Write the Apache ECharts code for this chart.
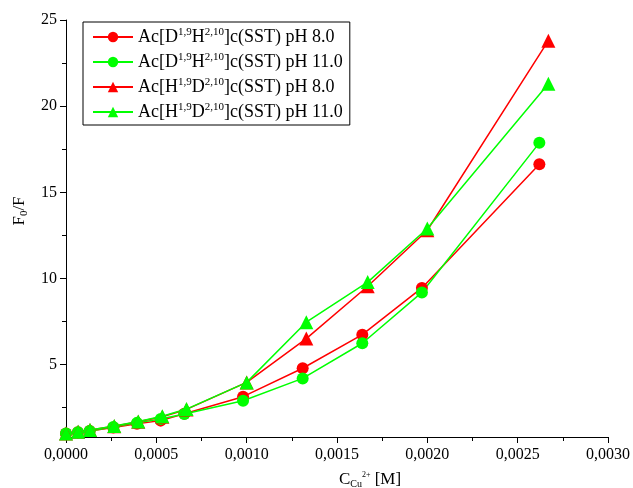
<!DOCTYPE html>
<html><head><meta charset="utf-8">
<script src="https://cdn.jsdelivr.net/npm/echarts@6/dist/echarts.min.js"></script>
<style>html,body{margin:0;padding:0;background:#fff}#c{width:633px;height:488px}</style>
</head><body><div id="c"></div>
<script>
// Data
const xCircle = [0, 0.000066, 0.000131, 0.000262, 0.000393, 0.000524, 0.000655, 0.00098, 0.00131, 0.00164, 0.00197, 0.00262];
const xTri    = [0, 0.000067, 0.000133, 0.000267, 0.0004, 0.000533, 0.000667, 0.001, 0.00133, 0.00167, 0.002, 0.00267];
const dh8  = [1.0, 1.08, 1.15, 1.35, 1.57, 1.75, 2.15, 3.14, 4.79, 6.74, 9.45, 16.63];
const dh11 = [1.0, 1.08, 1.15, 1.38, 1.62, 1.85, 2.13, 2.9, 4.2, 6.24, 9.19, 17.87];
const hd8  = [1.0, 1.1, 1.2, 1.42, 1.68, 1.98, 2.4, 3.97, 6.51, 9.55, 12.8, 23.8];
const hd11 = [1.0, 1.1, 1.2, 1.44, 1.7, 2.0, 2.42, 3.97, 7.46, 9.79, 12.9, 21.3];
const yTicks = [5, 10, 15, 20, 25];
const yMinorTicks = [2.5, 7.5, 12.5, 17.5, 22.5];
const names = ['DH8', 'DH11', 'HD8', 'HD11'];
const legendText = {
  DH8:  '{n|Ac[D}{s|1,9}{n|H}{s|2,10}{n|]c(SST) pH 8.0}',
  DH11: '{n|Ac[D}{s|1,9}{n|H}{s|2,10}{n|]c(SST) pH 11.0}',
  HD8:  '{n|Ac[H}{s|1,9}{n|D}{s|2,10}{n|]c(SST) pH 8.0}',
  HD11: '{n|Ac[H}{s|1,9}{n|D}{s|2,10}{n|]c(SST) pH 11.0}'
};

const FF = '"Liberation Serif", "Times New Roman", serif';
const pairs = (xs, ys) => xs.map((x, i) => [x, ys[i]]);
const RED = '#ff0000', GREEN = '#00ff00';
function mk(name, xs, ys, color, symbol, size) {
  return {
    name, type: 'line', data: pairs(xs, ys), symbol, symbolSize: size,
    itemStyle: { color }, lineStyle: { color, width: 1.5 }, animation: false
  };
}
const chart = echarts.init(document.getElementById('c'));
chart.setOption({
  animation: false,
  grid: { left: 66, right: 21, top: 20, bottom: 51, containLabel: false },
  legend: {
    left: 83, top: 22, orient: 'vertical',
    data: names,
    formatter: n => legendText[n],
    itemWidth: 40, itemHeight: 13, itemGap: 6,
    borderColor: '#000', borderWidth: 1, borderRadius: 0,
    padding: [5, 7, 4, 9],
    textStyle: {
      fontFamily: FF, color: '#000',
      rich: {
        n: { fontFamily: FF, fontSize: 18, color: '#000', lineHeight: 20 },
        s: { fontFamily: FF, fontSize: 11, color: '#000', verticalAlign: 'top', lineHeight: 11 }
      }
    }
  },
  xAxis: {
    type: 'value', min: 0, max: 0.003, interval: 0.0005,
    axisLine: { lineStyle: { color: '#000', width: 1 } },
    axisTick: { show: true, length: 6, lineStyle: { color: '#000' } },
    minorTick: { show: true, splitNumber: 2, length: 4, lineStyle: { color: '#000' } },
    splitLine: { show: false },
    axisLabel: { color: '#000', fontFamily: FF, fontSize: 16, margin: 10,
      formatter: v => v.toFixed(4).replace('.', ','), showMaxLabel: true, showMinLabel: true }
  },
  yAxis: [{
    type: 'value', min: 0.8, max: 25,
    axisLine: { show: true, lineStyle: { color: '#000', width: 1 } },
    axisTick: { show: true, length: 6, customValues: yTicks, lineStyle: { color: '#000' } },
    splitLine: { show: false },
    axisLabel: { color: '#000', fontFamily: FF, fontSize: 16, margin: 9, customValues: yTicks }
  }, {
    type: 'value', min: 0.8, max: 25, position: 'left',
    axisLine: { show: false },
    axisTick: { show: true, length: 4, customValues: yMinorTicks, lineStyle: { color: '#000' } },
    splitLine: { show: false },
    axisLabel: { show: false, customValues: yMinorTicks }
  }],
  graphic: [{
    type: 'text', x: 20, y: 211, rotation: Math.PI / 2,
    style: {
      text: '{n|F}{b|0}{n|/F}', textAlign: 'center', textVerticalAlign: 'middle',
      rich: {
        n: { fontFamily: FF, fontSize: 17, fill: '#000', color: '#000', lineHeight: 19 },
        b: { fontFamily: FF, fontSize: 11, fill: '#000', color: '#000', verticalAlign: 'bottom', lineHeight: 11 }
      }
    }
  }, {
    type: 'text', x: 370, y: 480,
    style: {
      text: '{n|C}{b|Cu}{t|2+}{n| [M]}', textAlign: 'center', textVerticalAlign: 'middle',
      rich: {
        n: { fontFamily: FF, fontSize: 17, fill: '#000', color: '#000', lineHeight: 19 },
        b: { fontFamily: FF, fontSize: 10, fill: '#000', color: '#000', verticalAlign: 'bottom', lineHeight: 8 },
        t: { fontFamily: FF, fontSize: 8, fill: '#000', color: '#000', verticalAlign: 'top', lineHeight: 10 }
      }
    }
  }],
  series: [
    mk('DH8', xCircle, dh8, RED, 'circle', 12),
    mk('DH11', xCircle, dh11, GREEN, 'circle', 12),
    mk('HD8', xTri, hd8, RED, 'triangle', 14),
    mk('HD11', xTri, hd11, GREEN, 'triangle', 14)
  ]
});
</script></body></html>
